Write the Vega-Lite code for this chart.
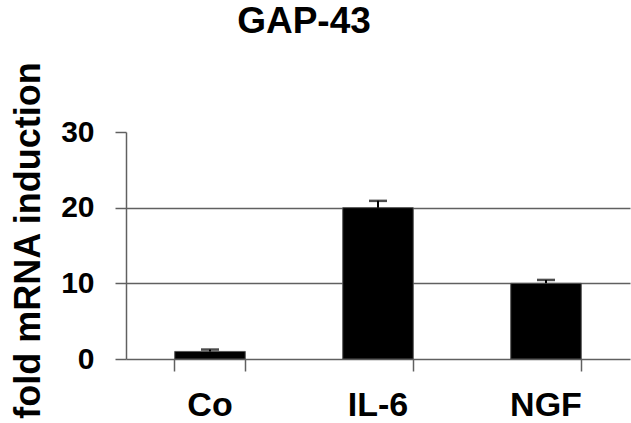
{
  "$schema": "https://vega.github.io/schema/vega-lite/v6.json",
  "width": 504,
  "height": 227,
  "autosize": {"type": "none"},
  "padding": {"left": 126, "top": 132, "right": 1, "bottom": 64},
  "background": "white",
  "config": {
    "view": {"stroke": null},
    "font": "Liberation Sans"
  },
  "title": {
    "text": "GAP-43",
    "font": "Liberation Sans",
    "fontSize": 37,
    "fontWeight": "bold",
    "color": "black",
    "anchor": "middle",
    "baseline": "alphabetic",
    "dx": -74,
    "dy": 9,
    "offset": 0
  },
  "data": {
    "values": [
      {"group": "Co", "value": 1.0, "upper": 1.25},
      {"group": "IL-6", "value": 20.0, "upper": 20.9},
      {"group": "NGF", "value": 10.0, "upper": 10.45}
    ]
  },
  "encoding": {
    "x": {
      "field": "group",
      "type": "nominal",
      "sort": null,
      "scale": {"paddingInner": 0.58, "paddingOuter": 0.29},
      "axis": {
        "title": null,
        "labelAngle": 0,
        "labelFont": "Liberation Sans",
        "labelFontSize": 34,
        "labelFontWeight": "bold",
        "labelColor": "black",
        "labelPadding": 17,
        "domainColor": "#606060",
        "domainWidth": 1.5,
        "tickColor": "#606060",
        "tickWidth": 1.5,
        "tickSize": 12,
        "bandPosition": 1,
        "tickExtra": true,
        "grid": false
      }
    }
  },
  "layer": [
    {
      "mark": {"type": "bar", "fill": "black", "stroke": "#555555", "strokeWidth": 1},
      "encoding": {
        "y": {
          "field": "value",
          "type": "quantitative",
          "scale": {"domain": [0, 30], "nice": false},
          "axis": {
            "values": [0, 10, 20, 30],
            "title": "fold mRNA induction",
            "titleFont": "Liberation Sans",
            "titleFontSize": 36,
            "titleFontWeight": "bold",
            "titleColor": "black",
            "titleAngle": -90,
            "titleBaseline": "alphabetic",
            "titleAnchor": "middle",
            "titleX": -87,
            "titleY": 108,
            "labelFont": "Liberation Sans",
            "labelFontSize": 30,
            "labelFontWeight": "bold",
            "labelColor": "black",
            "labelPadding": 21,
            "labelBaseline": "middle",
            "domainColor": "#606060",
            "domainWidth": 1.5,
            "tickColor": "#606060",
            "tickWidth": 1.5,
            "tickSize": 11,
            "grid": true,
            "gridColor": "#606060",
            "gridWidth": 1.5,
            "gridOpacity": {"condition": {"test": "datum.value == 30 || datum.value == 0", "value": 0}, "value": 1}
          }
        }
      }
    },
    {
      "mark": {"type": "rule", "color": "black", "strokeWidth": 2},
      "encoding": {
        "y": {"field": "value", "type": "quantitative"},
        "y2": {"field": "upper"}
      }
    },
    {
      "mark": {"type": "tick", "color": "black", "thickness": 2.5, "size": 18},
      "encoding": {
        "y": {"field": "upper", "type": "quantitative"}
      }
    }
  ]
}
